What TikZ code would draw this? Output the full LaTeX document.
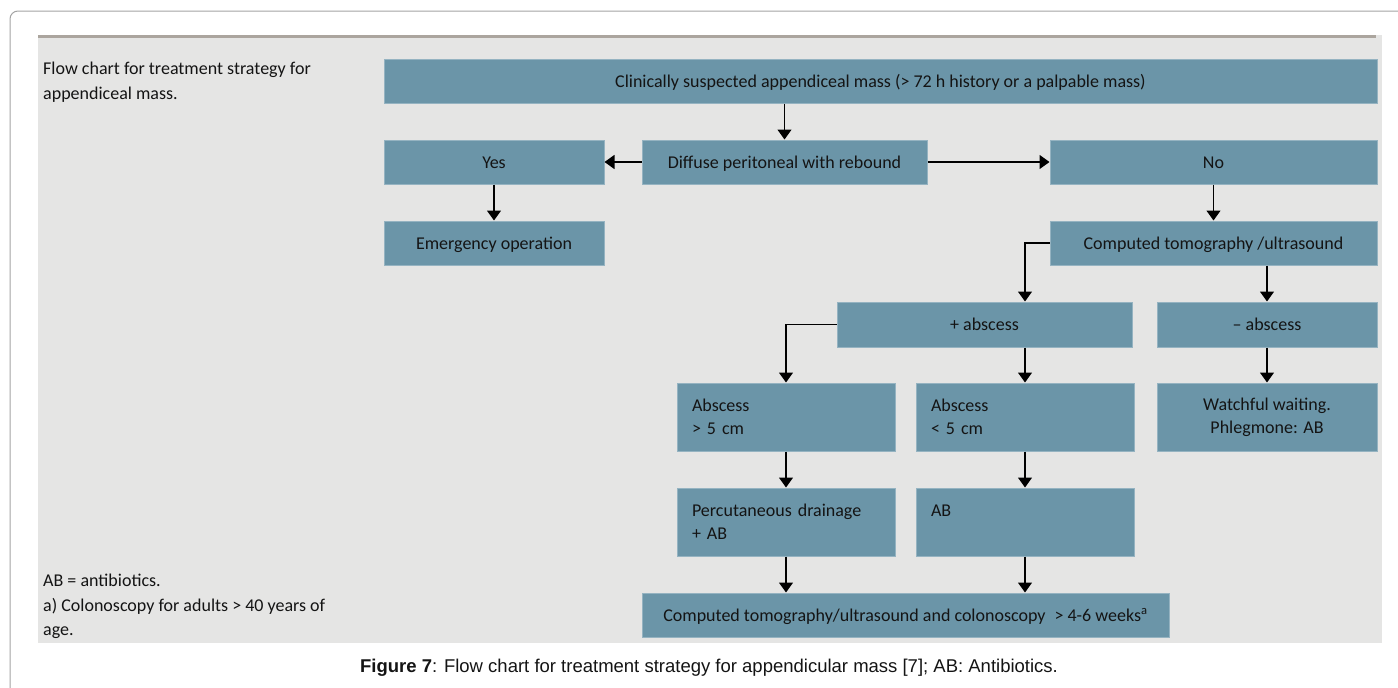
\documentclass[tikz,border=0pt]{standalone}
\usepackage{fontspec}
\setmainfont{Carlito}
\newfontfamily\capfont{Liberation Sans}
\usetikzlibrary{arrows.meta}
\definecolor{boxfill}{HTML}{6B95A8}
\definecolor{boxline}{HTML}{95B3C1}
\definecolor{panel}{HTML}{E5E5E4}
\definecolor{topline}{HTML}{ABA59E}
\definecolor{frame}{HTML}{A3A3A3}
\definecolor{ink}{HTML}{141414}

\begin{document}
\begin{tikzpicture}[x=1pt, y=-1pt, font=\fontsize{18}{23}\selectfont, text=ink,
	b/.style={draw=boxline, line width=1pt, fill=boxfill, minimum height=44pt, inner sep=0pt},
	o/.style={b, text height=14pt, text depth=2pt},
	l/.style={b, align=left, inner xsep=15pt, minimum height=68pt},
	a/.style={-{Triangle[width=14pt, length=10pt]}, line width=1.3pt},
	t/.style={align=left, anchor=north west, inner sep=0pt, font=\fontsize{18}{24.5}\selectfont}]
		\useasboundingbox (0,0) rectangle (1398,688);
		% page frame and panel
		\draw[frame, line width=1pt, rounded corners=8pt] (1410,11) -- (10,11) -- (10,700);
		\fill[panel] (38,35) rectangle (1382,643);
		\draw[topline, line width=3pt] (38,36) -- (1376,36);

		\node[o, minimum width=993pt] (T) at (880.5,81) {Clinically suspected appendiceal mass (> 72 h history or a palpable mass)};
		\node[o, minimum width=220pt] (Y) at (494,162) {Yes};
		\node[o, minimum width=285pt] (D) at (784.5,162) {Diffuse peritoneal with rebound};
		\node[o, minimum width=327pt] (N) at (1213.5,162) {No};
		\node[o, minimum width=220pt] (E) at (494,243) {Emergency operation};
		\node[o, minimum width=327pt] (CT) at (1213.5,243) {Computed tomography /ultrasound};
		\node[o, minimum width=295pt, minimum height=45pt] (PA) at (984.5,324.5) {+ abscess};
		\node[o, minimum width=220pt, minimum height=45pt] (NA) at (1267,324.5) {– abscess};
		\node[l, text width=188pt] (A5) at (786,417) {Abscess\\> 5 cm};
		\node[l, text width=188pt] (B5) at (1025,417) {Abscess\\< 5 cm};
		\node[b, align=center, minimum width=220pt, minimum height=68pt] (W) at (1267,417) {Watchful waiting.\\Phlegmone: AB};
		\node[l, text width=188pt] (P) at (786,522) {Percutaneous drainage\\+ AB};
		\node[l, text width=188pt] (AB) at (1025,522) {AB\\\phantom{+ AB}};
		\node[o, minimum width=527pt] (F) at (905.5,615) {Computed tomography/ultrasound and colonoscopy\enspace> 4-6 weeks\textsuperscript{a}};

		% side notes
		\node[t] (note1) at (43,62) {Flow chart for treatment strategy for\\appendiceal mass.};
		\node[t] (note2) at (43,574) {AB = antibiotics.\\a) Colonoscopy for adults > 40 years of\\age.};
		\node (cap) at (709,668) {\capfont\fontsize{18.5}{22}\selectfont\textbf{Figure 7}: Flow chart for treatment strategy for appendicular mass [7]; AB: Antibiotics.};

		\draw[a] (D |- T.south) -- (D.north);
		\draw[a] (D.west) -- (Y.east);
		\draw[a] (D.east) -- (N.west);
		\draw[a] (Y) -- (E);
		\draw[a] (N) -- (CT);
		\draw[a] (CT.west) -| (PA.north -| B5);
		\draw[a] (CT.south -| NA) -- (NA.north);
		\draw[a] (PA.west) -| (A5.north);
		\draw[a] (PA.south -| B5) -- (B5.north);
		\draw[a] (NA) -- (W);
		\draw[a] (A5) -- (P);
		\draw[a] (B5) -- (AB);
		\draw[a] (P.south) -- (F.north -| P);
		\draw[a] (AB.south) -- (F.north -| AB);
	\end{tikzpicture}
\end{document}
